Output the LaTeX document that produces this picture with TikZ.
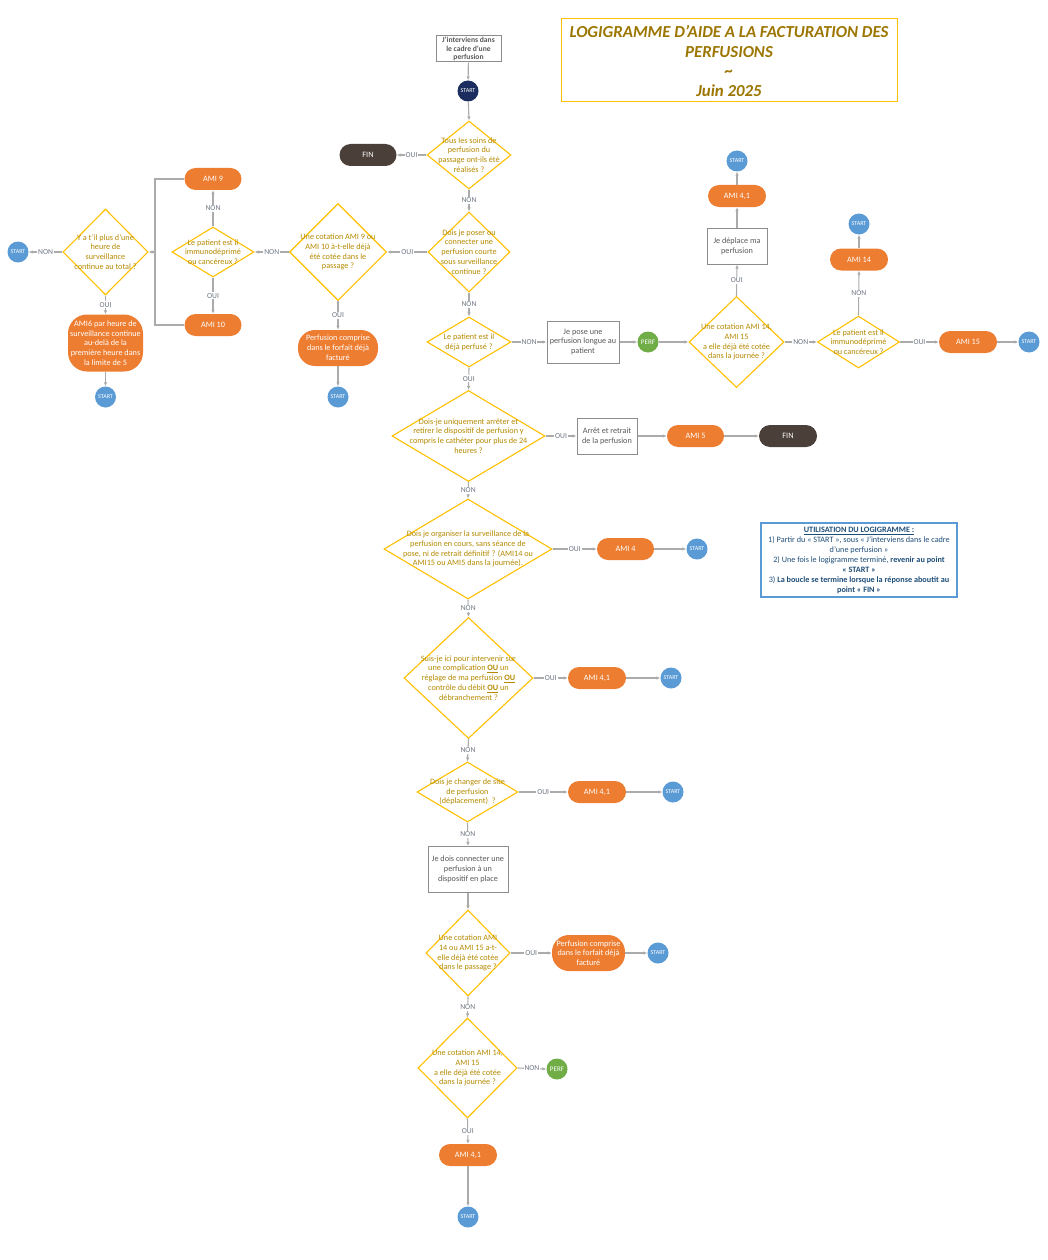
\documentclass[tikz,border=0pt]{standalone}
\usepackage{fontspec}
\setmainfont{Carlito}
\usetikzlibrary{shapes.geometric,arrows.meta}
\definecolor{diaY}{HTML}{FFC000}
\definecolor{diaT}{HTML}{B58A00}
\definecolor{titleC}{HTML}{9C7600}
\definecolor{orC}{HTML}{ED7D31}
\definecolor{finC}{HTML}{4B4039}
\definecolor{stC}{HTML}{5B9BD5}
\definecolor{st0C}{HTML}{1A2D5E}
\definecolor{perfC}{HTML}{70AD47}
\definecolor{boxC}{HTML}{8C8C8C}
\definecolor{boxT}{HTML}{595959}
\definecolor{lineC}{HTML}{ABABAB}
\definecolor{lblC}{HTML}{6E7682}
\definecolor{legB}{HTML}{5B9BD5}
\definecolor{legT}{HTML}{1F4E79}
\newcommand\fsD{\fontsize{8.2}{9.8}\selectfont}
\newcommand\fsL{\fontsize{7.6}{8}\selectfont}
\newcommand\fsS{\fontsize{6}{7}\selectfont}
\begin{document}
\begin{tikzpicture}[x=1pt,y=-1pt,
  dia/.style={diamond, draw=diaY, line width=1.1pt, inner sep=0pt},
  dtext/.style={text=diaT, font=\fsD, align=center, inner sep=0pt},
  orng/.style={rectangle, rounded corners=11pt, fill=orC, text=white, font=\fsD, minimum width=57pt, minimum height=22pt, inner sep=0pt, align=center},
  orngb/.style={orng, rounded corners=17pt, minimum height=36pt},
  finn/.style={orng, fill=finC},
  stn/.style={circle, fill=stC, text=white, font=\fsS, minimum size=21pt, inner sep=0pt},
  perfn/.style={stn, fill=perfC, font=\fontsize{7}{8}\selectfont},
  boxn/.style={rectangle, draw=boxC, line width=1pt, text=boxT, font=\fsD, align=center, inner sep=0pt},
  arr/.style={draw=lineC, line width=1.1pt, -{Latex[length=4pt,width=3.5pt]}},
  ln/.style={draw=lineC, line width=1.1pt},
  lbl/.style={fill=white, text=lblC, font=\fsL, inner sep=1pt}
]
\useasboundingbox[fill=white] (0,0) rectangle (1047,1260);

% Title
\node[draw=diaY, line width=1pt, minimum width=336pt, minimum height=83pt, inner sep=0pt] (title) at (729,60.5) {};
\node[text=titleC, font=\fontsize{16.8}{19.5}\selectfont\bfseries\itshape, align=center, inner sep=0pt] (titlet) at (729,61) {LOGIGRAMME D’AIDE A LA FACTURATION DES\\PERFUSIONS\\\char`~\\Juin 2025};

% Legend
\node[draw=legB, line width=2pt, minimum width=196pt, minimum height=74pt, inner sep=0pt] (leg) at (859,560) {};
\node[text=legT, font=\fontsize{8.2}{10}\selectfont, align=center, inner sep=0pt] (legt) at (859,560.5) {\textbf{\underline{UTILISATION DU LOGIGRAMME :}}\\1) Partir du « START », sous « J’interviens dans le cadre\\d’une perfusion »\\2) Une fois le logigramme terminé, \textbf{revenir au point}\\\textbf{« START »}\\3) \textbf{La boucle se termine lorsque la réponse aboutit au}\\\textbf{point « FIN »}};

% Top
\node[boxn, minimum width=65pt, minimum height=26pt, font=\fontsize{7.6}{8.4}\selectfont\bfseries, text=boxT] (top) at (468.5,49) {J’interviens dans\\le cadre d’une\\perfusion};
\node[stn, fill=st0C] (s0) at (468,91) {START};

% D1
\node[dia, minimum width=84pt, minimum height=68pt] (d1) at (469,155) {};
\node[dtext] (d1t) at (d1.center) {Tous les soins de\\perfusion du\\passage ont-ils été\\réalisés ?};
\node[finn] (fin1) at (368,155) {FIN};

% D2
\node[dia, minimum width=82pt, minimum height=80pt] (d2) at (469,252) {};
\node[dtext] (d2t) at (d2.center) {Dois je poser ou\\connecter une\\perfusion courte\\sous surveillance\\continue ?};

% D3
\node[dia, minimum width=97pt, minimum height=97pt] (d3) at (338,252) {};
\node[dtext] (d3t) at (d3.center) {Une cotation AMI 9 ou\\AMI 10 à-t-elle déjà\\été cotée dans le\\passage ?};
\node[orngb, minimum width=80pt] (pc1) at (338,348) {Perfusion comprise\\dans le forfait déjà\\facturé};
\node[stn] (s1) at (338,397) {START};

% D4
\node[dia, minimum width=82pt, minimum height=50pt] (d4) at (213,252) {};
\node[dtext] (d4t) at (d4.center) {Le patient est il\\immunodéprimé\\ou cancéreux ?};
\node[orng] (ami9) at (213,179) {AMI 9};
\node[orng] (ami10) at (213,325) {AMI 10};
\coordinate (lp) at (155,252);

% D5
\node[dia, minimum width=85pt, minimum height=86pt] (d5) at (105.5,252) {};
\node[dtext] (d5t) at (d5.center) {Y a t’il plus d’une\\heure de\\surveillance\\continue au total ?};
\node[stn] (s2) at (18,252) {START};
\node[rectangle, rounded corners=19pt, fill=orC, text=white, font=\fsD, minimum width=75pt, minimum height=57pt, inner sep=0pt, align=center] (ami6) at (105.5,343) {AMI6 par heure de\\surveillance continue\\au-delà de la\\première heure dans\\la limite de 5};
\node[stn] (s3) at (105.5,397) {START};

% D6
\node[dia, minimum width=84pt, minimum height=50pt] (d6) at (469,342) {};
\node[dtext] (d6t) at (d6.center) {Le patient est il\\déjà perfusé ?};
\node[boxn, minimum width=72pt, minimum height=42pt] (pose) at (583,342) {Je pose une\\perfusion longue au\\patient};
\node[perfn] (perf1) at (648,342) {PERF};

% D7
\node[dia, minimum width=95pt, minimum height=91pt] (d7) at (736.5,342) {};
\node[dtext] (d7t) at (d7.center) {Une cotation AMI 14,\\AMI 15\\a elle déjà été cotée\\dans la journée ?};
\node[boxn, minimum width=60pt, minimum height=36pt] (depl) at (737,246) {Je déplace ma\\perfusion};
\node[orng, minimum width=58pt] (ami41a) at (737,196) {AMI 4,1};
\node[stn] (s4) at (737,161) {START};

% D8
\node[dia, minimum width=82pt, minimum height=52pt] (d8) at (858.5,342) {};
\node[dtext] (d8t) at (d8.center) {Le patient est il\\immunodéprimé\\ou cancéreux ?};
\node[orng, minimum width=58pt] (ami14) at (859,259.5) {AMI 14};
\node[stn] (s5) at (859,224) {START};
\node[orng, minimum width=58pt] (ami15) at (968,342) {AMI 15};
\node[stn] (s6) at (1029,342) {START};

% D9
\node[dia, minimum width=153pt, minimum height=91pt] (d9) at (468.5,436) {};
\node[dtext] (d9t) at (d9.center) {Dois-je uniquement arrêter et\\retirer le dispositif de perfusion y\\compris le cathéter pour plus de 24\\heures ?};
\node[boxn, minimum width=60pt, minimum height=36pt] (arret) at (607,436) {Arrêt et retrait\\de la perfusion};
\node[orng] (ami5) at (695.5,436) {AMI 5};
\node[finn, minimum width=58pt] (fin2) at (788,436) {FIN};

% D10
\node[dia, minimum width=168pt, minimum height=100pt] (d10) at (468,549) {};
\node[dtext] (d10t) at (d10.center) {Dois je organiser la surveillance de la\\perfusion en cours, sans séance de\\pose, ni de retrait définitif ? (AMI14 ou\\AMI15 ou AMI5 dans la journée).};
\node[orng] (ami4) at (625.5,549) {AMI 4};
\node[stn] (s7) at (697,549) {START};

% D11
\node[dia, minimum width=129pt, minimum height=121pt] (d11) at (468.5,678) {};
\node[dtext] (d11t) at (d11.center) {Suis-je ici pour intervenir sur\\une complication \textbf{\underline{OU}} un\\réglage de ma perfusion \textbf{\underline{OU}}\\contrôle du débit \textbf{\underline{OU}} un\\débranchement ?};
\node[orng, minimum width=58pt] (ami41b) at (597,678) {AMI 4,1};
\node[stn] (s8) at (671,678) {START};

% D12
\node[dia, minimum width=101pt, minimum height=60pt] (d12) at (467.5,792) {};
\node[dtext] (d12t) at (d12.center) {Dois je changer de site\\de perfusion\\(déplacement) ~?};
\node[orng, minimum width=58pt] (ami41c) at (597,792) {AMI 4,1};
\node[stn] (s9) at (673,792) {START};

% connect box
\node[boxn, minimum width=80pt, minimum height=46pt] (conn) at (468,869.5) {Je dois connecter une\\perfusion à un\\dispositif en place};

% D13
\node[dia, minimum width=84pt, minimum height=86pt] (d13) at (468,953) {};
\node[dtext] (d13t) at (d13.center) {Une cotation AMI\\14 ou AMI 15 a-t-\\elle déjà été cotée\\dans le passage ?};
\node[orngb, minimum width=73pt] (pc2) at (588.5,953) {Perfusion comprise\\dans le forfait déjà\\facturé};
\node[stn] (s10) at (658,953) {START};

% D14
\node[dia, minimum width=99pt, minimum height=100pt] (d14) at (467.5,1068) {};
\node[dtext] (d14t) at (d14.center) {Une cotation AMI 14,\\AMI 15\\a elle déjà été cotée\\dans la journée ?};
\node[perfn] (perf2) at (557,1069) {PERF};
\node[orng, minimum width=58pt] (ami41d) at (468,1155) {AMI 4,1};
\node[stn] (s11) at (468,1217) {START};

% Connectors
\draw[arr] (top) -- (s0);
\draw[arr] (s0) -- (d1.north);
\draw[arr] (d1.west) -- node[lbl] (l1) {OUI} (fin1.east);
\draw[arr] (d1.south) -- node[lbl] (l2) {NON} (d2.north);
\draw[arr] (d2.west) -- node[lbl] (l3) {OUI} (d3.east);
\draw[arr] (d3.west) -- node[lbl] (l4) {NON} (d4.east);
\draw[arr] (d4.north) -- node[lbl] (l5) {NON} (ami9.south);
\draw[arr] (d4.south) -- node[lbl] (l6) {OUI} (ami10.north);
\draw[ln] (ami9.west) -| (lp) |- (ami10.west);
\draw[arr] (lp) -- (d5.east);
\draw[arr] (d5.west) -- node[lbl] (l7) {NON} (s2.east);
\draw[arr] (d5.south) -- node[lbl] (l8) {OUI} (ami6.north);
\draw[arr] (ami6.south) -- (s3.north);
\draw[arr] (d3.south) -- node[lbl] (l9) {OUI} (pc1.north);
\draw[arr] (pc1.south) -- (s1.north);
\draw[arr] (d2.south) -- node[lbl] (l10) {NON} (d6.north);
\draw[arr] (d6.east) -- node[lbl] (l11) {NON} (pose.west);
\draw[arr] (pose.east) -- (perf1.west);
\draw[arr] (perf1.east) -- (d7.west);
\draw[arr] (d7.north) -- node[lbl] (l12) {OUI} (depl.south);
\draw[arr] (depl.north) -- (ami41a.south);
\draw[arr] (ami41a.north) -- (s4.south);
\draw[arr] (d7.east) -- node[lbl] (l13) {NON} (d8.west);
\draw[arr] (d8.north) -- node[lbl] (l14) {NON} (ami14.south);
\draw[arr] (ami14.north) -- (s5.south);
\draw[arr] (d8.east) -- node[lbl] (l15) {OUI} (ami15.west);
\draw[arr] (ami15.east) -- (s6.west);
\draw[arr] (d6.south) -- node[lbl] (l16) {OUI} (d9.north);
\draw[arr] (d9.east) -- node[lbl] (l17) {OUI} (arret.west);
\draw[arr] (arret.east) -- (ami5.west);
\draw[arr] (ami5.east) -- (fin2.west);
\draw[arr] (d9.south) -- node[lbl] (l18) {NON} (d10.north);
\draw[arr] (d10.east) -- node[lbl] (l19) {OUI} (ami4.west);
\draw[arr] (ami4.east) -- (s7.west);
\draw[arr] (d10.south) -- node[lbl] (l20) {NON} (d11.north);
\draw[arr] (d11.east) -- node[lbl] (l21) {OUI} (ami41b.west);
\draw[arr] (ami41b.east) -- (s8.west);
\draw[arr] (d11.south) -- node[lbl] (l22) {NON} (d12.north);
\draw[arr] (d12.east) -- node[lbl] (l23) {OUI} (ami41c.west);
\draw[arr] (ami41c.east) -- (s9.west);
\draw[arr] (d12.south) -- node[lbl] (l24) {NON} (conn.north);
\draw[arr] (conn.south) -- (d13.north);
\draw[arr] (d13.east) -- node[lbl] (l25) {OUI} (pc2.west);
\draw[arr] (pc2.east) -- (s10.west);
\draw[arr] (d13.south) -- node[lbl] (l26) {NON} (d14.north);
\draw[arr] (d14.east) -- node[lbl] (l27) {NON} (perf2.west);
\draw[arr] (d14.south) -- node[lbl] (l28) {OUI} (ami41d.north);
\draw[arr] (ami41d.south) -- (s11.north);
\end{tikzpicture}
\end{document}
